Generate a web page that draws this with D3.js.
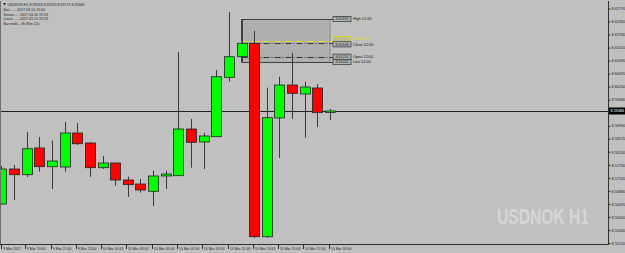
<!DOCTYPE html>
<html lang="en">
<meta charset="utf-8">
<head>
    <style>
        body { margin: 0; background: #c0c0c0; }
        svg { display: block; }
        text { font-family: "Liberation Sans", Arial, sans-serif; }
    </style>
    <script src="https://d3js.org/d3.v7.min.js"></script>
</head>
<body>
</body>
<script>
    // size of the page
    var svgWidth = 625;
    var svgHeight = 253;

    // H1 bars, 9 Mar 17:00 .. 10 Mar 19:00
    var times = ["9 Mar 2017", "9 Mar 18:00", "9 Mar 19:00", "9 Mar 20:00", "9 Mar 21:00", "9 Mar 22:00",
        "9 Mar 23:00", "10 Mar 00:00", "10 Mar 01:00", "10 Mar 02:00", "10 Mar 03:00", "10 Mar 04:00",
        "10 Mar 05:00", "10 Mar 06:00", "10 Mar 07:00", "10 Mar 08:00", "10 Mar 09:00", "10 Mar 10:00",
        "10 Mar 11:00", "10 Mar 12:00", "10 Mar 13:00", "10 Mar 14:00", "10 Mar 15:00", "10 Mar 16:00",
        "10 Mar 17:00", "10 Mar 18:00", "10 Mar 19:00"];
    var opens = [8.56467, 8.57596, 8.57412, 8.58273, 8.57670, 8.57660, 8.58756, 8.58434, 8.57638, 8.57789,
        8.57241, 8.57112, 8.56877, 8.57370, 8.57380, 8.58885, 8.58466, 8.58637, 8.60552, 8.61216,
        8.61648, 8.55413, 8.59240, 8.60304, 8.60014, 8.60207, 8.59433];
    var highs = [8.57692, 8.57725, 8.58788, 8.58627, 8.58508, 8.59111, 8.59079, 8.58466, 8.58015, 8.57800,
        8.57347, 8.57273, 8.57541, 8.57541, 8.61368, 8.59208, 8.58756, 8.60787, 8.62657, 8.62431,
        8.62054, 8.60217, 8.60571, 8.61335, 8.60410, 8.60336, 8.59530];
    var lows = [8.56435, 8.56596, 8.57338, 8.57509, 8.56951, 8.57509, 8.58369, 8.57338, 8.57596, 8.57057,
        8.56693, 8.56832, 8.56403, 8.56951, 8.57380, 8.57638, 8.57596, 8.58637, 8.60410, 8.61045,
        8.55381, 8.55371, 8.57950, 8.59208, 8.58605, 8.58950, 8.59175];
    var closes = [8.57596, 8.57412, 8.58250, 8.57670, 8.57854, 8.58756, 8.58411, 8.57638, 8.57789, 8.57241,
        8.57090, 8.56919, 8.57370, 8.57434, 8.58885, 8.58456, 8.58660, 8.60571, 8.61216, 8.61648,
        8.55413, 8.59250, 8.60304, 8.60036, 8.60239, 8.59411, 8.59466];

    // price axis labels
    var priceTicks = [8.62770, 8.62350, 8.61930, 8.61510, 8.61090, 8.60670, 8.60250, 8.59830, 8.59410,
        8.58990, 8.58570, 8.58150, 8.57730, 8.57310, 8.56890, 8.56470, 8.56050, 8.55630, 8.55210];

    // info lines top left
    var infoLines = ["Bar:......  2017.03.10 19:00", "Server:....  2017.03.10 19:24",
        "Local:......  2017.03.10 19:24", "Bar ends.. 0h 35m 12s"];

    var bars = times.map(function (t, i) {
        return { i: i, t: t, o: opens[i], h: highs[i], l: lows[i], c: closes[i] };
    });

    var plotRight = 608;
    var plotBottom = 244;

    var x = d3.scaleLinear().domain([0, bars.length - 1]).range([1.4, 330]);
    var y = d3.scaleLinear().domain([8.55210, 8.62770]).range([243, 8.5]);

    var svg = d3.select("body")
        .append("svg")
        .attr("width", svgWidth)
        .attr("height", svgHeight)
        .attr("style", "background-color:#c0c0c0");

    // watermark, squeezed sideways
    svg.append("g")
        .attr("transform", "translate(497,224) scale(0.71,1)")
        .append("text")
        .attr("x", 0).attr("y", 0)
        .attr("font-size", 22).attr("font-weight", "bold")
        .attr("fill", "#d6d6d6")
        .text("USDNOK H1");

    var plot = svg.append("g");

    // 12:00 bar box (high/low range of the 12:00 bar, carried to the last bar)
    var ref = bars[19];
    plot.append("rect")
        .attr("x", x(19)).attr("y", y(ref.h))
        .attr("width", x(26) - x(19)).attr("height", y(ref.l) - y(ref.h))
        .attr("fill", "#aaaaaa").attr("fill-opacity", 0.75);

    var levels = [
        { name: "High", v: ref.h, dash: null, col: "#404040" },
        { name: "Mid", v: (ref.h + ref.l) / 2, dash: "6,2,1,2", col: "#e0e000" },
        { name: "Close", v: ref.c, dash: "6,2,1,2", col: "#303030" },
        { name: "Open", v: ref.o, dash: "6,2,1,2", col: "#303030" },
        { name: "Low", v: ref.l, dash: null, col: "#404040" }
    ];

    plot.append("line")
        .attr("x1", x(19)).attr("x2", x(19))
        .attr("y1", y(ref.h)).attr("y2", y(ref.l))
        .attr("stroke", "#404040");
    plot.append("line")
        .attr("x1", x(26)).attr("x2", x(26))
        .attr("y1", y(ref.h)).attr("y2", y(ref.l))
        .attr("stroke", "#8a8a8a");

    plot.selectAll(".lvl")
        .data(levels)
        .enter()
        .append("line")
        .attr("x1", x(19))
        .attr("x2", 334)
        .attr("y1", function (d) { return Math.round(y(d.v)) + 0.5; })
        .attr("y2", function (d) { return Math.round(y(d.v)) + 0.5; })
        .attr("stroke", function (d) { return d.col; })
        .attr("stroke-dasharray", function (d) { return d.dash; });

    // current price line
    var last = closes[closes.length - 1];
    plot.append("line")
        .attr("x1", 0).attr("x2", plotRight)
        .attr("y1", Math.round(y(last)) + 0.5).attr("y2", Math.round(y(last)) + 0.5)
        .attr("stroke", "#202020");

    // wicks
    plot.selectAll(".wick")
        .data(bars)
        .enter()
        .append("line")
        .attr("x1", function (d) { return Math.round(x(d.i)) + 0.5; })
        .attr("x2", function (d) { return Math.round(x(d.i)) + 0.5; })
        .attr("y1", function (d) { return y(d.h); })
        .attr("y2", function (d) { return y(d.l); })
        .attr("stroke", "#3a3a3a");

    // bodies
    plot.selectAll(".body")
        .data(bars)
        .enter()
        .append("rect")
        .attr("x", function (d) { return Math.round(x(d.i)) - 4.5; })
        .attr("y", function (d) { return y(Math.max(d.o, d.c)); })
        .attr("width", 10)
        .attr("height", function (d) { return Math.max(1.5, Math.abs(y(d.o) - y(d.c))); })
        .attr("fill", function (d) { return d.c >= d.o ? "#00ff00" : "#ff0000"; })
        .attr("stroke", "#222")
        .attr("stroke-width", 0.8);

    // level labels on the right of the box
    var lab = plot.selectAll(".lab")
        .data(levels)
        .enter()
        .append("g")
        .attr("transform", function (d) {
            var yy = y(d.v);
            if (d.name === "Mid") yy -= 1.5;
            if (d.name === "Close") yy += 1;
            return "translate(333," + yy + ")";
        });
    lab.append("rect")
        .attr("x", 0).attr("y", -2.6)
        .attr("width", 18).attr("height", 5.2)
        .attr("fill", "#b4b4b4")
        .attr("stroke", function (d) { return d.name === "Mid" ? "#e0e000" : "#404040"; })
        .attr("stroke-width", 0.8);
    lab.append("text")
        .attr("x", 9).attr("y", 1.3)
        .attr("text-anchor", "middle")
        .attr("font-size", 3.6)
        .attr("fill", function (d) { return d.name === "Mid" ? "#d8d800" : "#202020"; })
        .text(function (d) { return d.v.toFixed(5); });
    lab.append("text")
        .attr("x", 20).attr("y", 1.3)
        .attr("font-size", 3.8)
        .attr("fill", function (d) { return d.name === "Mid" ? "#e0e000" : "#101010"; })
        .text(function (d) { return d.name + " 12:00"; });

    // frame
    svg.append("line").attr("x1", 0.5).attr("x2", 0.5).attr("y1", 1).attr("y2", plotBottom)
        .attr("stroke", "#707070");
    svg.append("line").attr("x1", plotRight + 0.5).attr("x2", plotRight + 0.5).attr("y1", 1).attr("y2", plotBottom)
        .attr("stroke", "#303030");
    svg.append("line").attr("x1", 0).attr("x2", plotRight + 1).attr("y1", plotBottom + 0.5).attr("y2", plotBottom + 0.5)
        .attr("stroke", "#303030");

    // price axis (the label under the current price box is left out)
    var yAxis = d3.axisRight(y)
        .tickValues(priceTicks)
        .tickSize(2)
        .tickPadding(1)
        .tickFormat(function (d) {
            return Math.abs(y(d) - y(last)) < 5 ? "" : d.toFixed(5);
        });
    var ya = svg.append("g")
        .attr("transform", "translate(" + (plotRight + 0.5) + ",0)")
        .call(yAxis);
    ya.select(".domain").remove();
    ya.selectAll("line").attr("stroke", "#303030");
    ya.selectAll("text").attr("font-size", 3.8).attr("fill", "#202020")
        .attr("font-family", "Liberation Sans, Arial, sans-serif");

    // current price box
    svg.append("rect")
        .attr("x", plotRight + 1).attr("y", y(last) - 3.5)
        .attr("width", 17).attr("height", 7)
        .attr("fill", "#000");
    svg.append("text")
        .attr("x", plotRight + 2.5).attr("y", y(last) + 1.4)
        .attr("font-size", 3.8).attr("fill", "#fff")
        .text(last.toFixed(5));

    // time axis, every second bar
    var timeIdx = d3.range(0, bars.length, 2);
    var xa = svg.append("g");
    xa.selectAll("line")
        .data(timeIdx)
        .enter()
        .append("line")
        .attr("x1", function (d) { return Math.max(1.5, Math.round(x(d) - 1.3) + 0.5); })
        .attr("x2", function (d) { return Math.max(1.5, Math.round(x(d) - 1.3) + 0.5); })
        .attr("y1", plotBottom + 1).attr("y2", plotBottom + 5)
        .attr("stroke", "#303030");
    xa.selectAll("text")
        .data(timeIdx)
        .enter()
        .append("text")
        .attr("x", function (d) { return Math.max(1.5, Math.round(x(d) - 1.3)) + 1.8; })
        .attr("y", plotBottom + 5.6)
        .attr("font-size", 3.5)
        .attr("fill", "#202020")
        .text(function (d) { return times[d]; });

    // header info
    var info = svg.append("g").attr("transform", "translate(3,0)");
    info.append("path")
        .attr("d", "M0,3 L3,3 L1.5,5.5 Z")
        .attr("fill", "#202020");
    info.append("text")
        .attr("x", 4.5).attr("y", 5.6)
        .attr("font-size", 3.6).attr("fill", "#202020")
        .text("USDNOK,H1  " + [opens[26], highs[26], lows[26], closes[26]].map(function (v) { return v.toFixed(5); }).join(" "));
    info.selectAll(".info")
        .data(infoLines)
        .enter()
        .append("text")
        .attr("x", 0.5)
        .attr("y", function (d, i) { return 10.6 + i * 4.9; })
        .attr("font-size", 3.6).attr("fill", "#202020")
        .text(function (d) { return d; });
</script>
</html>
